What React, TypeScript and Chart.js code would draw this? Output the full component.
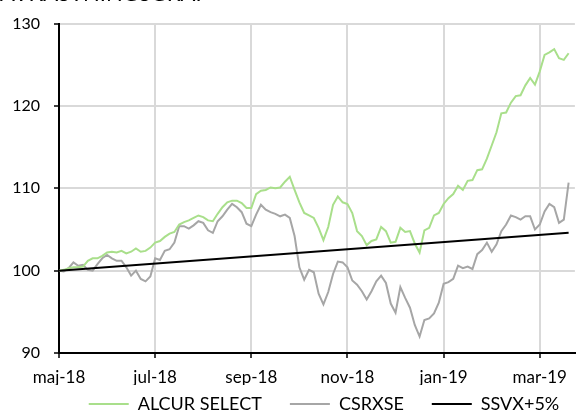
import React, { useEffect, useRef } from "react";
import { Chart, registerables } from "chart.js";

Chart.register(...registerables);

// x positions: months since maj-18, one observation every 0.1 month
const STEP = 0.1;

const tickLabels = ["maj-18", "jul-18", "sep-18", "nov-18", "jan-19", "mar-19"];
const seriesNames = ["ALCUR SELECT", "CSRXSE", "SSVX+5%"];

const alcurSelect = [
  100.0, 100.1, 100.3, 100.4, 100.4, 100.5, 101.2, 101.5, 101.5, 101.8,
  102.2, 102.3, 102.2, 102.4, 102.1, 102.3, 102.7, 102.3, 102.4, 102.8,
  103.4, 103.6, 104.1, 104.5, 104.7, 105.6, 105.9, 106.1, 106.4, 106.7,
  106.5, 106.1, 106.0, 106.9, 107.7, 108.3, 108.5, 108.5, 108.2, 107.6,
  107.6, 109.3, 109.7, 109.8, 110.1, 110.0, 110.1, 110.8, 111.4, 109.8,
  108.3, 107.0, 106.7, 106.4, 105.2, 103.7, 105.3, 108.0, 109.0, 108.3,
  108.1, 107.0, 104.8, 104.2, 103.1, 103.6, 103.8, 105.3, 104.8, 103.4,
  103.5, 105.2, 104.7, 104.8, 103.3, 102.2, 104.9, 105.2, 106.7, 107.0,
  108.1, 108.8, 109.3, 110.3, 109.8, 110.9, 111.0, 112.2, 112.3, 113.6,
  115.2, 116.8, 119.1, 119.2, 120.4, 121.2, 121.3, 122.5, 123.4, 122.6,
  124.2, 126.2, 126.5, 126.9, 125.8, 125.6, 126.4,
];

const csrxse = [
  100.0, 99.9, 100.3, 101.0, 100.6, 100.7, 100.1, 100.0, 100.8, 101.5,
  101.9, 101.5, 101.2, 101.2, 100.4, 99.4, 100.0, 99.0, 98.7, 99.3,
  101.5, 101.3, 102.4, 102.6, 103.4, 105.4, 105.4, 105.1, 105.5, 106.0,
  105.8, 104.9, 104.6, 106.0, 106.6, 107.4, 108.1, 107.7, 107.1, 105.7,
  105.4, 106.8, 108.0, 107.4, 107.1, 106.9, 106.6, 106.8, 106.4, 104.2,
  100.4, 98.9, 100.1, 99.8, 97.2, 95.9, 97.4, 99.6, 101.1, 101.0,
  100.4, 98.8, 98.3, 97.5, 96.5, 97.5, 98.7, 99.4, 98.5, 96.0,
  94.9, 98.0, 96.7, 95.5, 93.4, 92.0, 94.0, 94.2, 94.8, 96.1,
  98.4, 98.6, 99.0, 100.6, 100.3, 100.5, 100.2, 102.0, 102.5, 103.4,
  102.3, 103.2, 104.8, 105.6, 106.7, 106.5, 106.2, 106.6, 106.6, 105.0,
  105.6, 107.2, 108.1, 107.7, 105.8, 106.2, 110.7,
];

const ssvxStart = 100.0;
const ssvxEnd = 104.6;

const yMin = 90;
const yMax = 130;
const yStep = 10;
const xMax = 10.73;

const FONT = "Lato, 'Open Sans', sans-serif";
const LEGEND_HEIGHT = 28;
const LEGEND_PAD = 28;
const LEGEND_SHIFT_Y = 18;
const LEGEND_SHIFT_X = 36;

export default function App() {
  const ref = useRef<HTMLCanvasElement | null>(null);

  useEffect(() => {
    if (!ref.current) return;
    const toPoints = (vals: number[]) =>
      vals.map((v, i) => ({ x: +(i * STEP).toFixed(2), y: v }));
    const lastX = +((alcurSelect.length - 1) * STEP).toFixed(2);

    const chart = new Chart(ref.current, {
      type: "line",
      data: {
        datasets: [
          {
            label: seriesNames[0],
            data: toPoints(alcurSelect),
            borderColor: "#a9df8b",
            backgroundColor: "#a9df8b",
            borderWidth: 2,
            pointRadius: 0,
            tension: 0,
            order: 1,
          },
          {
            label: seriesNames[1],
            data: toPoints(csrxse),
            borderColor: "#a6a6a6",
            backgroundColor: "#a6a6a6",
            borderWidth: 2,
            pointRadius: 0,
            tension: 0,
            order: 2,
          },
          {
            label: seriesNames[2],
            data: [
              { x: 0, y: ssvxStart },
              { x: lastX, y: ssvxEnd },
            ],
            borderColor: "#000000",
            backgroundColor: "#000000",
            borderWidth: 2,
            pointRadius: 0,
            tension: 0,
            order: 0,
          },
        ],
      },
      options: {
        responsive: false,
        animation: false,
        layout: { padding: { top: 19, right: 0, left: 0, bottom: 0 } },
        plugins: {
          tooltip: { enabled: false },
          legend: {
            position: "bottom",
            labels: {
              usePointStyle: true,
              pointStyle: "line",
              pointStyleWidth: 40,
              color: "#000",
              font: { family: FONT, size: 18 },
              padding: LEGEND_PAD,
              boxHeight: 2,
              sort: (a: any, b: any) => a.datasetIndex - b.datasetIndex,
            },
          },
        },
        scales: {
          x: {
            type: "linear",
            min: 0,
            max: xMax,
            afterBuildTicks: (scale: any) => {
              scale.ticks = tickLabels.map((_, i) => ({ value: i * 2 }));
            },
            afterFit: (scale: any) => {
              scale.height = 32;
            },
            ticks: {
              autoSkip: false,
              maxRotation: 0,
              color: "#000",
              font: { family: FONT, size: 17 },
              padding: 9,
              callback: (v: any) => tickLabels[Math.round(Number(v) / 2)] ?? "",
            },
            grid: {
              color: "#d9d9d9",
              lineWidth: 2,
              tickColor: "#000",
              tickLength: 5,
              tickWidth: 1.5,
            },
            border: { color: "#000", width: 2 },
          },
          y: {
            min: yMin,
            max: yMax,
            afterFit: (scale: any) => {
              scale.width = 59;
            },
            ticks: {
              stepSize: yStep,
              color: "#000",
              font: { family: FONT, size: 16 },
              padding: 14,
            },
            grid: {
              color: "#d9d9d9",
              lineWidth: 2,
              tickColor: "#000",
              tickLength: 5,
              tickWidth: 1.5,
            },
            border: { color: "#000", width: 2 },
          },
        },
      },
    });

    // keep wide horizontal gaps between legend items but a compact legend box
    const lg: any = (chart as any).legend;
    if (lg) {
      const origFit = lg.fit.bind(lg);
      lg.fit = () => {
        origFit();
        lg.height = LEGEND_HEIGHT;
      };
      const origDraw = lg.draw.bind(lg);
      lg.draw = () => {
        const t = lg.top;
        const l = lg.left;
        const r = lg.right;
        lg.top = t - LEGEND_SHIFT_Y;
        lg.left = l + LEGEND_SHIFT_X;
        lg.right = r + LEGEND_SHIFT_X;
        origDraw();
        lg.top = t;
        lg.left = l;
        lg.right = r;
      };
      chart.update();
    }
    return () => chart.destroy();
  }, []);

  return (
    <div style={{ position: "absolute", left: 0, top: 0, width: 576, height: 413, overflow: "hidden", background: "#fff" }}>
      <div
        style={{
          position: "absolute",
          left: 0,
          top: -18,
          fontFamily: FONT,
          fontSize: 22,
          lineHeight: "22px",
          whiteSpace: "nowrap",
          color: "#000",
        }}
      >
        AVKASTNINGSGRAF
      </div>
      <canvas ref={ref} width={576} height={413} style={{ display: "block" }} />
    </div>
  );
}
